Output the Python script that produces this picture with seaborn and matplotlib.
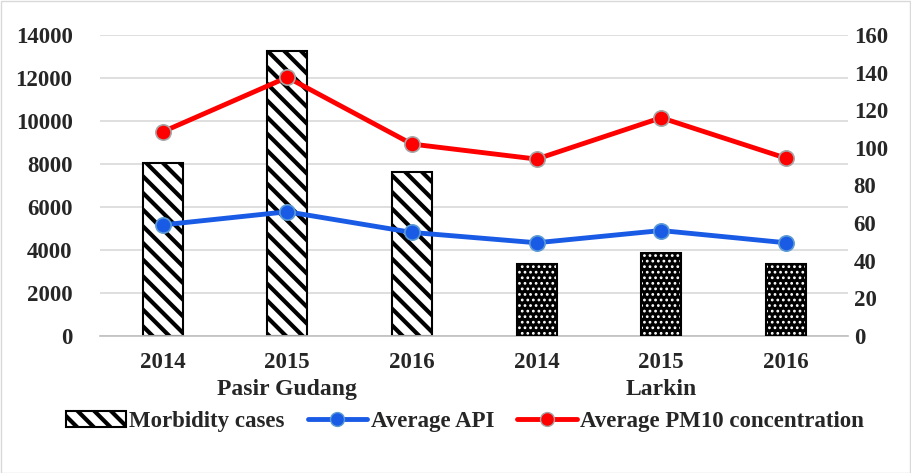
import matplotlib
matplotlib.use("Agg")
import matplotlib.pyplot as plt
import seaborn as sns
import pandas as pd
import numpy as np
from matplotlib.patches import Rectangle, Patch
from matplotlib.lines import Line2D
import matplotlib.transforms as mtransforms

sites = ["Pasir Gudang", "Pasir Gudang", "Pasir Gudang", "Larkin", "Larkin", "Larkin"]
years = ["2014", "2015", "2016", "2014", "2015", "2016"]
morbidity = [8050, 13250, 7630, 3350, 3860, 3350]
avg_api = [59, 66, 55, 49.5, 56, 49.5]
avg_pm10 = [108.5, 137.5, 102, 94, 116, 94.5]
group_names = ["Pasir Gudang", "Larkin"]

sns.set_theme(style="white")
plt.rcParams['font.family'] = ['Liberation Serif', 'DejaVu Serif']
plt.rcParams['font.weight'] = 'bold'
plt.rcParams['hatch.linewidth'] = 3.0

df = pd.DataFrame({"key": [f"{s} {y}" for s, y in zip(sites, years)],
                   "site": sites, "year": years,
                   "morbidity": morbidity, "api": avg_api, "pm10": avg_pm10})
df["pos"] = np.arange(len(df))

fig = plt.figure(figsize=(9.12, 4.73), dpi=100)
ax = fig.add_axes([0.11, 0.29, 0.82, 0.636])

sns.barplot(data=df, x="key", y="morbidity", color="white", width=0.32,
            ax=ax, zorder=2)
for i, p in enumerate(ax.patches):
    if sites[i] == "Pasir Gudang":
        p.set_facecolor("white")
        p.set_edgecolor("black")
        p.set_hatch("\\\\")
        p.set_linewidth(1.5)
    else:
        p.set_facecolor("black")
        p.set_edgecolor("white")
        p.set_hatch("...")
        p.set_linewidth(0)
        try:
            p.set_hatch_linewidth(1.2)
        except Exception:
            pass
        r = Rectangle(p.get_xy(), p.get_width(), p.get_height(), fill=False,
                      edgecolor="black", linewidth=1.5, zorder=3)
        ax.add_patch(r)

fs = 16.5
ax.set_ylim(0, 14000)
ax.set_yticks(np.arange(0, 14001, 2000))
ax.set_xlim(-0.5, 5.5)
ax.set_xticks(range(6))
ax.set_xticklabels(years)
ax.set_xticks(np.arange(0.5, 5.0, 1.0), minor=True)
ax.tick_params(axis="x", which="major", length=0, pad=12, labelsize=fs)
ax.tick_params(axis="x", which="minor", length=8, width=1, color="#BFBFBF", direction="out")
ax.tick_params(axis="y", length=0, labelsize=fs, pad=20)
ax.set_xlabel("")
ax.set_ylabel("")
ax.grid(axis="y", color="#D9D9D9", linewidth=1.2, zorder=0)
ax.set_axisbelow(True)
for s in ["top", "left", "right"]:
    ax.spines[s].set_visible(False)
ax.spines["bottom"].set_color("#BFBFBF")
ax.spines["bottom"].set_linewidth(1.2)
for lab in ax.get_xticklabels() + ax.get_yticklabels():
    lab.set_fontweight("bold")

ax2 = ax.twinx()
red = "#FF0000"
blue = "#1A5BE6"
sns.lineplot(data=df, x="pos", y="pm10", ax=ax2, color=red, linewidth=3.5,
             marker="o", markersize=11, markeredgecolor="#A6A6A6",
             markeredgewidth=1.2, zorder=4)
sns.lineplot(data=df, x="pos", y="api", ax=ax2, color=blue, linewidth=3.5,
             marker="o", markersize=11, markeredgecolor="#5B9BD5",
             markeredgewidth=1.2, zorder=4)
ax2.set_ylim(0, 160)
ax2.set_yticks(np.arange(0, 161, 20))
ax2.set_xlim(-0.5, 5.5)
ax2.set_xlabel("")
ax2.set_ylabel("")
ax2.grid(False)
ax2.tick_params(axis="y", length=0, labelsize=fs, pad=4)
for s in ["top", "left", "right", "bottom"]:
    ax2.spines[s].set_visible(False)
for lab in ax2.get_yticklabels():
    lab.set_fontweight("bold")

trans = mtransforms.blended_transform_factory(ax.transData, ax.transAxes)
ax.text(1, -0.18, group_names[0], transform=trans, ha="center", va="center",
        fontsize=17, fontweight="bold")
ax.text(4, -0.18, group_names[1], transform=trans, ha="center", va="center",
        fontsize=17, fontweight="bold")

handles = [Patch(facecolor="white", edgecolor="black", hatch="\\\\", linewidth=1.5),
           Line2D([], [], color=blue, linewidth=3.5, marker="o", markersize=10,
                  markeredgecolor="#5B9BD5"),
           Line2D([], [], color=red, linewidth=3.5, marker="o", markersize=10,
                  markeredgecolor="#A6A6A6")]
labels = ["Morbidity cases", "Average API", "Average PM10 concentration"]
fig.legend(handles, labels, loc="center", bbox_to_anchor=(0.51, 0.108), ncol=3,
           frameon=False, prop={"size": 16.5, "weight": "bold"},
           handlelength=2.6, handletextpad=0.15, columnspacing=1.0)

fig.patches.append(Rectangle((0.001, 0.001), 0.997, 0.997, transform=fig.transFigure,
                             fill=False, edgecolor="#D9D9D9", linewidth=1))

fig.savefig("out.png", dpi=100)
